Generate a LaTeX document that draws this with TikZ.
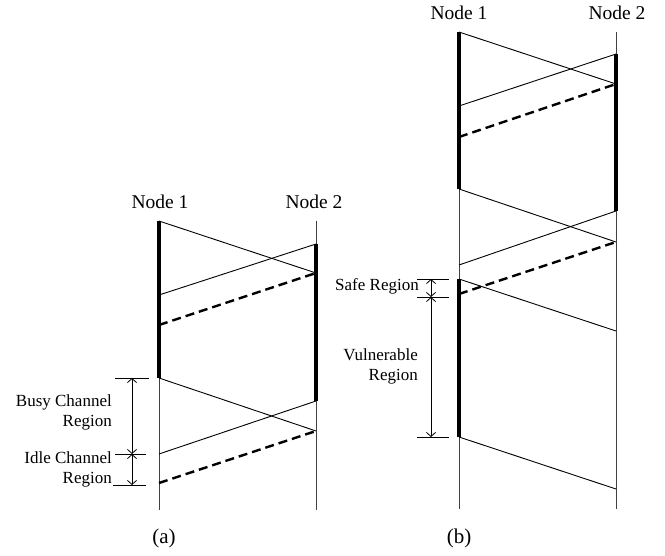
\documentclass[tikz,border=0pt]{standalone}
\usepackage{fontspec}
\setmainfont{Liberation Serif}
\usetikzlibrary{arrows.meta}
\begin{document}
\begin{tikzpicture}[x=1pt,y=-1pt,
  timeline/.style={line width=0.9pt,black!75},
  busy/.style={line width=4pt},
  msg/.style={line width=0.9pt},
  dmsg/.style={line width=2.4pt,dash pattern=on 9pt off 5pt},
  tick/.style={line width=0.8pt},
  dim/.style={line width=0.8pt,{Straight Barb[length=4pt,width=9pt]}-{Straight Barb[length=4pt,width=9pt]}},
  nodelabel/.style={font=\fontsize{19.5}{22}\selectfont,inner sep=0pt,anchor=base},
  reglabel/.style={font=\fontsize{17}{20.5}\selectfont,inner sep=0pt,align=right,anchor=base east},
  caption/.style={font=\fontsize{21}{24}\selectfont,inner sep=0pt,anchor=base}
]
\useasboundingbox (0,0) rectangle (665,556);

% ---------------- panel (a) ----------------
\node[nodelabel] (a1) at (160,209) {Node 1};
\node[nodelabel] (a2) at (314,209) {Node 2};
\coordinate (a1t) at (159,221); \coordinate (a1b) at (159,510);
\coordinate (a2t) at (316,221); \coordinate (a2b) at (316,510);
\draw[timeline] (a1t) -- (a1b);
\draw[timeline] (a2t) -- (a2b);
\coordinate (a1s) at (159,221); \coordinate (a1e) at (159,378);
\coordinate (a2s) at (316,244); \coordinate (a2e) at (316,401);
\draw[busy] (a1s) -- (a1e);
\draw[busy] (a2s) -- (a2e);
\coordinate (aR1) at (316,273);
\coordinate (aL1) at (159,295);
\coordinate (aL2) at (159,325);
\coordinate (aR2) at (316,431);
\coordinate (aL3) at (159,454);
\coordinate (aL4) at (159,483);
\draw[msg] (a1s) -- (aR1);
\draw[msg] (a2s) -- (aL1);
\draw[dmsg] (aL2) -- (aR1);
\draw[msg] (a1e) -- (aR2);
\draw[msg] (a2e) -- (aL3);
\draw[dmsg] (aL4) -- (aR2);
% dimensions (a)
\coordinate (ad1) at (132,378); \coordinate (ad2) at (132,454); \coordinate (ad3) at (132,485);
\draw[tick] (115,378) -- (149,378);
\draw[tick] (115,454) -- (146,454);
\draw[tick] (113,485) -- (146,485);
\draw[dim] (ad1) -- (ad2);
\draw[dim] (ad2) -- (ad3);
\node[reglabel] (busy) at (112,427) {Busy Channel\\Region};
\node[reglabel] (idle) at (112,484) {Idle Channel\\Region};
\node[caption] (capa) at (164,543) {(a)};

% ---------------- panel (b) ----------------
\node[nodelabel] (b1) at (459,20) {Node 1};
\node[nodelabel] (b2) at (617,20) {Node 2};
\coordinate (b1t) at (459,32); \coordinate (b1b) at (459,509);
\coordinate (b2t) at (616,32); \coordinate (b2b) at (616,509);
\draw[timeline] (b1t) -- (b1b);
\draw[timeline] (b2t) -- (b2b);
\coordinate (b1s) at (459,32); \coordinate (b1e) at (459,189);
\coordinate (b2s) at (616,54); \coordinate (b2e) at (616,211);
\coordinate (b3s) at (459,279); \coordinate (b3e) at (459,437);
\draw[busy] (b1s) -- (b1e);
\draw[busy] (b2s) -- (b2e);
\draw[busy] (b3s) -- (b3e);
\coordinate (bR1) at (616,84);
\coordinate (bL1) at (459,106);
\coordinate (bL2) at (459,137);
\coordinate (bR2) at (616,242);
\coordinate (bL3) at (459,265);
\coordinate (bL4) at (459,294);
\coordinate (bR3) at (616,331);
\coordinate (bR4) at (616,489);
\draw[msg] (b1s) -- (bR1);
\draw[msg] (b2s) -- (bL1);
\draw[dmsg] (bL2) -- (bR1);
\draw[msg] (b1e) -- (bR2);
\draw[msg] (b2e) -- (bL3);
\draw[dmsg] (bL4) -- (bR2);
\draw[msg] (b3s) -- (bR3);
\draw[msg] (b3e) -- (bR4);
% dimensions (b)
\coordinate (bd1) at (431,279); \coordinate (bd2) at (431,297); \coordinate (bd3) at (431,437);
\draw[tick] (417,279) -- (449,279);
\draw[tick] (417,297) -- (449,297);
\draw[tick] (417,437) -- (449,437);
\draw[dim] (bd1) -- (bd2);
\draw[dim] (bd2) -- (bd3);
\node[reglabel] (safe) at (419,291) {Safe Region};
\node[reglabel] (vuln) at (418,381) {Vulnerable\\Region};
\node[caption] (capb) at (459,543) {(b)};
\end{tikzpicture}
\end{document}
